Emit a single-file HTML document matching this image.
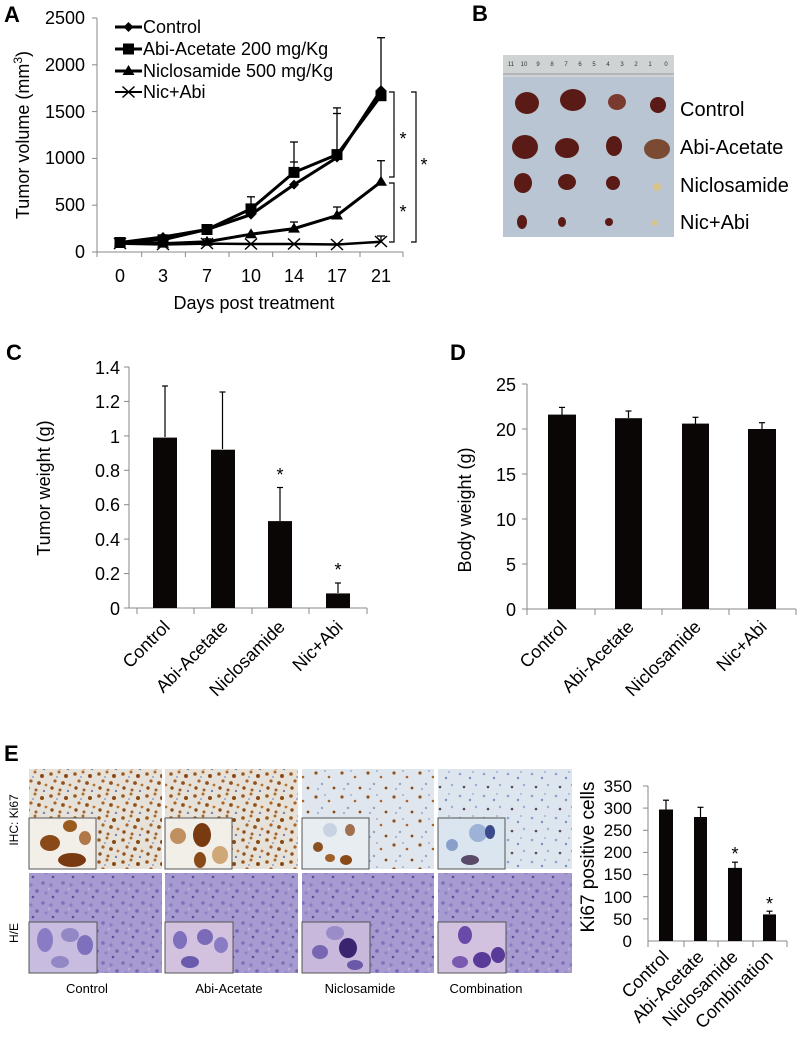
<!DOCTYPE html>
<html><head><meta charset="utf-8"><style>
html,body{margin:0;padding:0;background:#fff;}
svg{display:block;font-family:"Liberation Sans",Arial,sans-serif;}
</style></head><body>
<svg width="800" height="1046" viewBox="0 0 800 1046" xmlns="http://www.w3.org/2000/svg">
<defs>
<pattern id="brown" width="24" height="22" patternUnits="userSpaceOnUse">
<rect width="24" height="22" fill="#e6e2da"/>
<circle cx="3" cy="4" r="1.8" fill="#9a5a1e"/><circle cx="11" cy="2" r="1.5" fill="#b06a28"/>
<circle cx="18" cy="6" r="2" fill="#8a4a18"/><circle cx="7" cy="11" r="1.6" fill="#a8652a"/>
<circle cx="15" cy="13" r="1.9" fill="#93531c"/><circle cx="22" cy="15" r="1.4" fill="#b87430"/>
<circle cx="4" cy="18" r="1.7" fill="#8e4e1a"/><circle cx="12" cy="20" r="1.5" fill="#a0602a"/>
<circle cx="20" cy="21" r="1.2" fill="#7a86b0"/><circle cx="9" cy="7" r="1" fill="#8fa0c8"/>
</pattern>
<pattern id="brownlight" width="26" height="24" patternUnits="userSpaceOnUse">
<rect width="26" height="24" fill="#dfe6ee"/>
<circle cx="4" cy="5" r="1.6" fill="#93531c"/><circle cx="17" cy="9" r="1.3" fill="#a8652a"/>
<circle cx="10" cy="16" r="1.2" fill="#8fa2cc"/><circle cx="22" cy="20" r="1.4" fill="#8a4a18"/>
<circle cx="13" cy="3" r="1" fill="#9fb0d4"/><circle cx="6" cy="21" r="1.1" fill="#9fb0d4"/>
</pattern>
<pattern id="blue" width="24" height="22" patternUnits="userSpaceOnUse">
<rect width="24" height="22" fill="#dde5ee"/>
<circle cx="4" cy="4" r="1.3" fill="#8fa3cf"/><circle cx="14" cy="8" r="1.2" fill="#7b90c2"/>
<circle cx="20" cy="15" r="1.2" fill="#9aadd6"/><circle cx="8" cy="17" r="1.3" fill="#5b4a5a"/>
<circle cx="17" cy="2" r="1" fill="#a2b3d8"/>
</pattern>
<pattern id="purple" width="20" height="20" patternUnits="userSpaceOnUse">
<rect width="20" height="20" fill="#a79ad0"/>
<circle cx="3" cy="3" r="1.8" fill="#7d6fb8"/><circle cx="11" cy="5" r="1.6" fill="#8a7cc0"/>
<circle cx="17" cy="11" r="1.8" fill="#7566b2"/><circle cx="6" cy="13" r="1.5" fill="#8e80c2"/>
<circle cx="13" cy="17" r="1.3" fill="#5e4c9e"/><circle cx="9" cy="9" r="1" fill="#c7b8dc"/>
</pattern>
</defs>

<!-- Panel A -->
<text x="4" y="22" font-size="22" font-weight="bold">A</text>
<g stroke="#888" stroke-width="1" fill="none">
<line x1="97" y1="18" x2="97" y2="252"/>
<line x1="97" y1="252" x2="403" y2="252"/>
<line x1="92" y1="18" x2="97" y2="18"/><line x1="92" y1="64.8" x2="97" y2="64.8"/><line x1="92" y1="111.6" x2="97" y2="111.6"/><line x1="92" y1="158.4" x2="97" y2="158.4"/><line x1="92" y1="205.2" x2="97" y2="205.2"/><line x1="92" y1="252" x2="97" y2="252"/>
<line x1="97" y1="252" x2="97" y2="257"/><line x1="141.7" y1="252" x2="141.7" y2="257"/><line x1="185.4" y1="252" x2="185.4" y2="257"/><line x1="229" y1="252" x2="229" y2="257"/><line x1="272.7" y1="252" x2="272.7" y2="257"/><line x1="316.4" y1="252" x2="316.4" y2="257"/><line x1="360" y1="252" x2="360" y2="257"/><line x1="403" y1="252" x2="403" y2="257"/>
</g>
<g font-size="18" text-anchor="end">
<text x="85" y="24">2500</text><text x="85" y="71">2000</text><text x="85" y="118">1500</text><text x="85" y="164">1000</text><text x="85" y="211">500</text><text x="85" y="258">0</text>
</g>
<g font-size="18" text-anchor="middle">
<text x="120" y="282">0</text><text x="163" y="282">3</text><text x="207" y="282">7</text><text x="251" y="282">10</text><text x="294" y="282">14</text><text x="337" y="282">17</text><text x="381" y="282">21</text>
<text x="254" y="309">Days post treatment</text>
</g>
<text transform="translate(29,135) rotate(-90)" font-size="18" text-anchor="middle">Tumor volume (mm<tspan dy="-7" font-size="12">3</tspan><tspan dy="7">)</tspan></text>
<!-- error bars A -->
<g stroke="#000" stroke-width="1.3">
<line x1="381" y1="90" x2="381" y2="37.7"/><line x1="377" y1="37.7" x2="385" y2="37.7"/>
<line x1="337" y1="157" x2="337" y2="107.9"/><line x1="333" y1="107.9" x2="341" y2="107.9"/><line x1="333" y1="113.5" x2="341" y2="113.5"/>
<line x1="294" y1="172" x2="294" y2="142"/><line x1="290" y1="142" x2="298" y2="142"/><line x1="290" y1="162" x2="298" y2="162"/>
<line x1="251" y1="208" x2="251" y2="196.8"/><line x1="247" y1="196.8" x2="255" y2="196.8"/>
<line x1="381" y1="182" x2="381" y2="160.7"/><line x1="377" y1="160.7" x2="385" y2="160.7"/>
<line x1="337" y1="215" x2="337" y2="207"/><line x1="333" y1="207" x2="341" y2="207"/>
<line x1="294" y1="228" x2="294" y2="222"/><line x1="290" y1="222" x2="298" y2="222"/>
<line x1="381" y1="241" x2="381" y2="236"/><line x1="377" y1="236" x2="385" y2="236"/>
<line x1="207" y1="243" x2="207" y2="238.9"/><line x1="203" y1="238.9" x2="211" y2="238.9"/>
</g>
<g fill="none" stroke="#000" stroke-width="3">
<polyline points="120,242.6 163,237 207,229.5 251,214.6 294,184.6 337,157.5 381,90.1"/>
<polyline points="120,242.6 163,239.8 207,229.5 251,208.9 294,172.4 337,154.6 381,95.7"/>
<polyline points="120,242.6 163,243.6 207,241.7 251,234.2 294,228.6 337,215.5 381,181.8"/>
<polyline points="120,243.6 163,244.5 207,243.6 251,244 294,244 337,244.5 381,241.7" stroke-width="2.5"/>
</g>
<g fill="#000">
<path d="M120,237.6l5,5-5,5-5-5z"/><path d="M163,232l5,5-5,5-5-5z"/><path d="M207,224.5l5,5-5,5-5-5z"/><path d="M251,209.6l5,5-5,5-5-5z"/><path d="M294,179.6l5,5-5,5-5-5z"/><path d="M337,152.5l5,5-5,5-5-5z"/><path d="M381,85.1l5,5-5,5-5-5z"/>
<rect x="114.5" y="237" width="11" height="11"/><rect x="157.5" y="234.3" width="11" height="11"/><rect x="201.5" y="224" width="11" height="11"/><rect x="245.5" y="203.4" width="11" height="11"/><rect x="288.5" y="166.9" width="11" height="11"/><rect x="331.5" y="149.1" width="11" height="11"/><rect x="375.5" y="90.2" width="11" height="11"/>
<path d="M120,236.6l6,10h-12z"/><path d="M163,237.6l6,10h-12z"/><path d="M207,235.7l6,10h-12z"/><path d="M251,228.2l6,10h-12z"/><path d="M294,222.6l6,10h-12z"/><path d="M337,209.5l6,10h-12z"/><path d="M381,175.8l6,10h-12z"/>
</g>
<g stroke="#000" stroke-width="1.5">
<path d="M114,238l12,11M114,249l12-11"/><path d="M157,239l12,11M157,250l12-11"/><path d="M201,238l12,11M201,249l12-11"/><path d="M245,238.5l12,11M245,249.5l12-11"/><path d="M288,238.5l12,11M288,249.5l12-11"/><path d="M331,239l12,11M331,250l12-11"/><path d="M375,236l12,11M375,247l12-11"/>
</g>
<!-- legend -->
<g stroke="#000" stroke-width="3"><line x1="115" y1="27" x2="142" y2="27"/><line x1="115" y1="49" x2="142" y2="49"/><line x1="115" y1="71" x2="142" y2="71"/><line x1="115" y1="92" x2="142" y2="92" stroke-width="2"/></g>
<path d="M128.5,22l5,5-5,5-5-5z"/><rect x="123" y="43.5" width="11" height="11"/><path d="M128.5,65l6,10h-12z"/>
<path d="M122.5,86.5l12,11M122.5,97.5l12-11" stroke="#000" stroke-width="1.5"/>
<g font-size="18"><text x="143" y="33">Control</text><text x="143" y="55">Abi-Acetate 200 mg/Kg</text><text x="143" y="77">Niclosamide 500 mg/Kg</text><text x="143" y="98">Nic+Abi</text></g>
<!-- brackets -->
<g fill="none" stroke="#000" stroke-width="1.2">
<path d="M389,92h5v85h-5"/><path d="M389,183h5v59h-5"/><path d="M411,92h5v150h-5"/>
</g>
<g font-size="18" text-anchor="middle"><text x="403" y="145">*</text><text x="403" y="218">*</text><text x="424" y="171">*</text></g>

<!-- Panel B -->
<text x="472" y="21" font-size="22" font-weight="bold">B</text>
<rect x="503" y="55" width="171" height="182" fill="#b9c5d2"/>
<rect x="503" y="55" width="171" height="22" fill="#cfd3d4"/>
<line x1="503" y1="74" x2="674" y2="74" stroke="#9a9a9a"/>
<g font-size="6" fill="#333" text-anchor="middle"><text x="511" y="66">11</text><text x="524" y="66">10</text><text x="538" y="66">9</text><text x="552" y="66">8</text><text x="566" y="66">7</text><text x="580" y="66">6</text><text x="594" y="66">5</text><text x="608" y="66">4</text><text x="622" y="66">3</text><text x="636" y="66">2</text><text x="650" y="66">1</text><text x="666" y="66">0</text></g>
<g fill="#5a1a16">
<ellipse cx="527" cy="103" rx="12" ry="11"/><ellipse cx="573" cy="100" rx="13" ry="11"/><ellipse cx="617" cy="102" rx="9" ry="8" fill="#7a3a2e"/><ellipse cx="658" cy="105" rx="8" ry="8"/>
<ellipse cx="525" cy="147" rx="13" ry="12"/><ellipse cx="567" cy="148" rx="12" ry="10"/><ellipse cx="614" cy="146" rx="8" ry="10"/><ellipse cx="657" cy="149" rx="13" ry="10" fill="#7a4a32"/>
<ellipse cx="523" cy="183" rx="9" ry="10"/><ellipse cx="567" cy="182" rx="9" ry="8"/><ellipse cx="613" cy="183" rx="7" ry="7"/><ellipse cx="657" cy="187" rx="4" ry="4" fill="#d8c48a"/>
<ellipse cx="522" cy="222" rx="5" ry="7"/><ellipse cx="562" cy="222" rx="4" ry="5"/><ellipse cx="609" cy="222" rx="4" ry="4"/><ellipse cx="655" cy="223" rx="3" ry="3" fill="#d8c48a"/>
</g>
<g font-size="20"><text x="680" y="116">Control</text><text x="680" y="154">Abi-Acetate</text><text x="680" y="192">Niclosamide</text><text x="680" y="229">Nic+Abi</text></g>

<!-- Panel C -->
<text x="6" y="360" font-size="22" font-weight="bold">C</text>
<g stroke="#888" fill="none">
<line x1="129" y1="367" x2="129" y2="608"/><line x1="129" y1="608" x2="367" y2="608"/>
<line x1="124" y1="367" x2="129" y2="367"/><line x1="124" y1="401.4" x2="129" y2="401.4"/><line x1="124" y1="435.9" x2="129" y2="435.9"/><line x1="124" y1="470.3" x2="129" y2="470.3"/><line x1="124" y1="504.7" x2="129" y2="504.7"/><line x1="124" y1="539.1" x2="129" y2="539.1"/><line x1="124" y1="573.6" x2="129" y2="573.6"/><line x1="124" y1="608" x2="129" y2="608"/>
<line x1="137" y1="608" x2="137" y2="614"/><line x1="194" y1="608" x2="194" y2="614"/><line x1="252" y1="608" x2="252" y2="614"/><line x1="309" y1="608" x2="309" y2="614"/><line x1="367" y1="608" x2="367" y2="614"/>
</g>
<g font-size="18" text-anchor="end">
<text x="120" y="374">1.4</text><text x="120" y="408">1.2</text><text x="120" y="443">1</text><text x="120" y="477">0.8</text><text x="120" y="511">0.6</text><text x="120" y="546">0.4</text><text x="120" y="580">0.2</text><text x="120" y="615">0</text>
</g>
<text transform="translate(50,488) rotate(-90)" font-size="18" text-anchor="middle">Tumor weight (g)</text>
<g stroke="#000" stroke-width="1.2">
<line x1="165" y1="437" x2="165" y2="386"/><line x1="162" y1="386" x2="168" y2="386"/>
<line x1="222.5" y1="449" x2="222.5" y2="392"/><line x1="219.5" y1="392" x2="225.5" y2="392"/>
<line x1="280" y1="521" x2="280" y2="487.5"/><line x1="277" y1="487.5" x2="283" y2="487.5"/>
<line x1="338" y1="593" x2="338" y2="583"/><line x1="335" y1="583" x2="341" y2="583"/>
</g>
<g fill="#0a0606"><rect x="153" y="437.6" width="24" height="170.4"/><rect x="211" y="449.7" width="24" height="158.3"/><rect x="268" y="521.1" width="24" height="86.9"/><rect x="326" y="593.4" width="24" height="14.6"/></g>
<g font-size="18" text-anchor="middle"><text x="280" y="481">*</text><text x="338" y="576">*</text></g>
<g font-size="18" text-anchor="end">
<text transform="translate(171,628) rotate(-45)">Control</text>
<text transform="translate(229,628) rotate(-45)">Abi-Acetate</text>
<text transform="translate(286,628) rotate(-45)">Niclosamide</text>
<text transform="translate(344,628) rotate(-45)">Nic+Abi</text>
</g>

<!-- Panel D -->
<text x="450" y="360" font-size="22" font-weight="bold">D</text>
<g stroke="#888" fill="none">
<line x1="527" y1="384" x2="527" y2="609"/><line x1="527" y1="609" x2="796" y2="609"/>
<line x1="522" y1="384" x2="527" y2="384"/><line x1="522" y1="429" x2="527" y2="429"/><line x1="522" y1="474" x2="527" y2="474"/><line x1="522" y1="519" x2="527" y2="519"/><line x1="522" y1="564" x2="527" y2="564"/><line x1="522" y1="609" x2="527" y2="609"/>
<line x1="527" y1="609" x2="527" y2="615"/><line x1="595" y1="609" x2="595" y2="615"/><line x1="662" y1="609" x2="662" y2="615"/><line x1="729" y1="609" x2="729" y2="615"/><line x1="796" y1="609" x2="796" y2="615"/>
</g>
<g font-size="18" text-anchor="end">
<text x="516" y="391">25</text><text x="516" y="436">20</text><text x="516" y="481">15</text><text x="516" y="526">10</text><text x="516" y="571">5</text><text x="516" y="616">0</text>
</g>
<text transform="translate(471,510) rotate(-90)" font-size="18" text-anchor="middle">Body weight (g)</text>
<g stroke="#000" stroke-width="1.2">
<line x1="562" y1="415" x2="562" y2="407.4"/><line x1="559" y1="407.4" x2="565" y2="407.4"/>
<line x1="628.5" y1="418" x2="628.5" y2="411"/><line x1="625.5" y1="411" x2="631.5" y2="411"/>
<line x1="695.5" y1="424" x2="695.5" y2="417.3"/><line x1="692.5" y1="417.3" x2="698.5" y2="417.3"/>
<line x1="762" y1="429" x2="762" y2="422.7"/><line x1="759" y1="422.7" x2="765" y2="422.7"/>
</g>
<g fill="#0a0606"><rect x="548" y="414.6" width="28" height="194.4"/><rect x="615" y="418.2" width="27" height="190.8"/><rect x="682" y="423.6" width="27" height="185.4"/><rect x="748" y="429" width="28" height="180"/></g>
<g font-size="18" text-anchor="end">
<text transform="translate(568,628) rotate(-45)">Control</text>
<text transform="translate(635,628) rotate(-45)">Abi-Acetate</text>
<text transform="translate(702,628) rotate(-45)">Niclosamide</text>
<text transform="translate(768,628) rotate(-45)">Nic+Abi</text>
</g>

<!-- Panel E -->
<text x="4" y="761" font-size="22" font-weight="bold">E</text>
<text transform="translate(18,820) rotate(-90)" font-size="12" text-anchor="middle">IHC: Ki67</text>
<text transform="translate(18,933) rotate(-90)" font-size="12" text-anchor="middle">H/E</text>
<rect x="29" y="769" width="133" height="100" fill="url(#brown)"/>
<rect x="165" y="769" width="133" height="100" fill="url(#brown)"/>
<rect x="302" y="769" width="132" height="100" fill="url(#brownlight)"/>
<rect x="438" y="769" width="134" height="100" fill="url(#blue)"/>
<rect x="29" y="873" width="133" height="100" fill="url(#purple)"/>
<rect x="165" y="873" width="133" height="100" fill="url(#purple)"/>
<rect x="302" y="873" width="132" height="100" fill="url(#purple)"/>
<rect x="438" y="873" width="134" height="100" fill="url(#purple)"/>
<!-- insets row1 -->
<rect x="29" y="818" width="67" height="51" fill="#f2efe8" stroke="#555"/>
<ellipse cx="50" cy="843" rx="10" ry="8" fill="#8a4a18"/><ellipse cx="72" cy="860" rx="14" ry="7" fill="#7a3a10"/><ellipse cx="70" cy="826" rx="7" ry="6" fill="#9a5a20"/><ellipse cx="85" cy="838" rx="6" ry="7" fill="#b07848"/>
<rect x="165" y="818" width="67" height="51" fill="#f2efe8" stroke="#555"/>
<ellipse cx="202" cy="835" rx="9" ry="12" fill="#7a3a10"/><ellipse cx="178" cy="836" rx="8" ry="8" fill="#c09060"/><ellipse cx="200" cy="860" rx="6" ry="8" fill="#8a4a18"/><ellipse cx="220" cy="855" rx="8" ry="9" fill="#d0a878"/>
<rect x="302" y="818" width="67" height="51" fill="#e8edf2" stroke="#555"/>
<ellipse cx="318" cy="847" rx="5" ry="5" fill="#8a5020"/><ellipse cx="330" cy="858" rx="5" ry="4" fill="#a06028"/><ellipse cx="346" cy="860" rx="6" ry="5" fill="#8a4a18"/><ellipse cx="350" cy="830" rx="5" ry="6" fill="#a07050"/><ellipse cx="330" cy="830" rx="7" ry="7" fill="#c8d2e2"/>
<rect x="438" y="818" width="67" height="51" fill="#dbe5ef" stroke="#555"/>
<ellipse cx="478" cy="833" rx="9" ry="9" fill="#9db2d6"/><ellipse cx="490" cy="832" rx="5" ry="7" fill="#3a4a8a"/><ellipse cx="470" cy="860" rx="9" ry="5" fill="#5a4a6a"/><ellipse cx="452" cy="845" rx="6" ry="6" fill="#8aa0cc"/>
<!-- insets row2 -->
<rect x="29" y="922" width="68" height="51" fill="#c8bde0" stroke="#555"/>
<ellipse cx="45" cy="940" rx="8" ry="12" fill="#8a7cc4"/><ellipse cx="70" cy="935" rx="9" ry="7" fill="#9487c6"/><ellipse cx="85" cy="945" rx="8" ry="10" fill="#7e70bc"/><ellipse cx="60" cy="962" rx="9" ry="6" fill="#9487c6"/>
<rect x="165" y="922" width="68" height="51" fill="#d2c2e0" stroke="#555"/>
<ellipse cx="180" cy="940" rx="7" ry="9" fill="#7e70bc"/><ellipse cx="205" cy="937" rx="8" ry="8" fill="#7a6ab8"/><ellipse cx="221" cy="945" rx="7" ry="8" fill="#8a7cc4"/><ellipse cx="190" cy="962" rx="9" ry="6" fill="#6a5aac"/>
<rect x="302" y="922" width="68" height="51" fill="#c8b8dc" stroke="#555"/>
<ellipse cx="348" cy="948" rx="9" ry="10" fill="#3a2470"/><ellipse cx="320" cy="952" rx="8" ry="7" fill="#7866b2"/><ellipse cx="335" cy="933" rx="9" ry="7" fill="#9a8cc8"/><ellipse cx="355" cy="965" rx="8" ry="5" fill="#6a58a8"/>
<rect x="438" y="922" width="68" height="51" fill="#d2c2e0" stroke="#555"/>
<ellipse cx="482" cy="960" rx="9" ry="8" fill="#5a3a98"/><ellipse cx="498" cy="955" rx="7" ry="8" fill="#5a3a98"/><ellipse cx="465" cy="935" rx="7" ry="9" fill="#6a4aa8"/><ellipse cx="460" cy="962" rx="8" ry="6" fill="#7a5ab0"/>
<g font-size="13" text-anchor="middle"><text x="87" y="993">Control</text><text x="229" y="993">Abi-Acetate</text><text x="360" y="993">Niclosamide</text><text x="486" y="993">Combination</text></g>
<!-- Ki67 chart -->
<g stroke="#888" fill="none">
<line x1="648" y1="786" x2="648" y2="941"/><line x1="648" y1="941" x2="787" y2="941"/>
<line x1="643" y1="786" x2="648" y2="786"/><line x1="643" y1="808.1" x2="648" y2="808.1"/><line x1="643" y1="830.3" x2="648" y2="830.3"/><line x1="643" y1="852.4" x2="648" y2="852.4"/><line x1="643" y1="874.6" x2="648" y2="874.6"/><line x1="643" y1="896.7" x2="648" y2="896.7"/><line x1="643" y1="918.9" x2="648" y2="918.9"/>
<line x1="648" y1="941" x2="648" y2="947"/><line x1="684" y1="941" x2="684" y2="947"/><line x1="718" y1="941" x2="718" y2="947"/><line x1="753" y1="941" x2="753" y2="947"/><line x1="787" y1="941" x2="787" y2="947"/>
</g>
<g font-size="17" text-anchor="end">
<text x="632" y="792">350</text><text x="632" y="814">300</text><text x="632" y="836">250</text><text x="632" y="858">200</text><text x="632" y="880">150</text><text x="632" y="903">100</text><text x="632" y="925">50</text><text x="632" y="947">0</text>
</g>
<text transform="translate(594,857) rotate(-90)" font-size="19" text-anchor="middle">Ki67 positive cells</text>
<g stroke="#000" stroke-width="1.2">
<line x1="666" y1="810" x2="666" y2="800.2"/><line x1="663" y1="800.2" x2="669" y2="800.2"/>
<line x1="700.5" y1="817" x2="700.5" y2="807.3"/><line x1="697.5" y1="807.3" x2="703.5" y2="807.3"/>
<line x1="735" y1="868" x2="735" y2="862.2"/><line x1="732" y1="862.2" x2="738" y2="862.2"/>
<line x1="769.5" y1="914" x2="769.5" y2="911.2"/><line x1="766.5" y1="911.2" x2="772.5" y2="911.2"/>
</g>
<g fill="#0a0606"><rect x="659" y="809.5" width="14" height="131.5"/><rect x="694" y="817" width="13" height="124"/><rect x="728" y="867.9" width="14" height="73.1"/><rect x="763" y="914.4" width="13" height="26.6"/></g>
<g font-size="18" text-anchor="middle"><text x="735" y="860">*</text><text x="769.5" y="910">*</text></g>
<g font-size="18" text-anchor="end">
<text transform="translate(670,958) rotate(-45)">Control</text>
<text transform="translate(705,958) rotate(-45)">Abi-Acetate</text>
<text transform="translate(739,958) rotate(-45)">Niclosamide</text>
<text transform="translate(774,958) rotate(-45)">Combination</text>
</g>
</svg>
</body></html>
